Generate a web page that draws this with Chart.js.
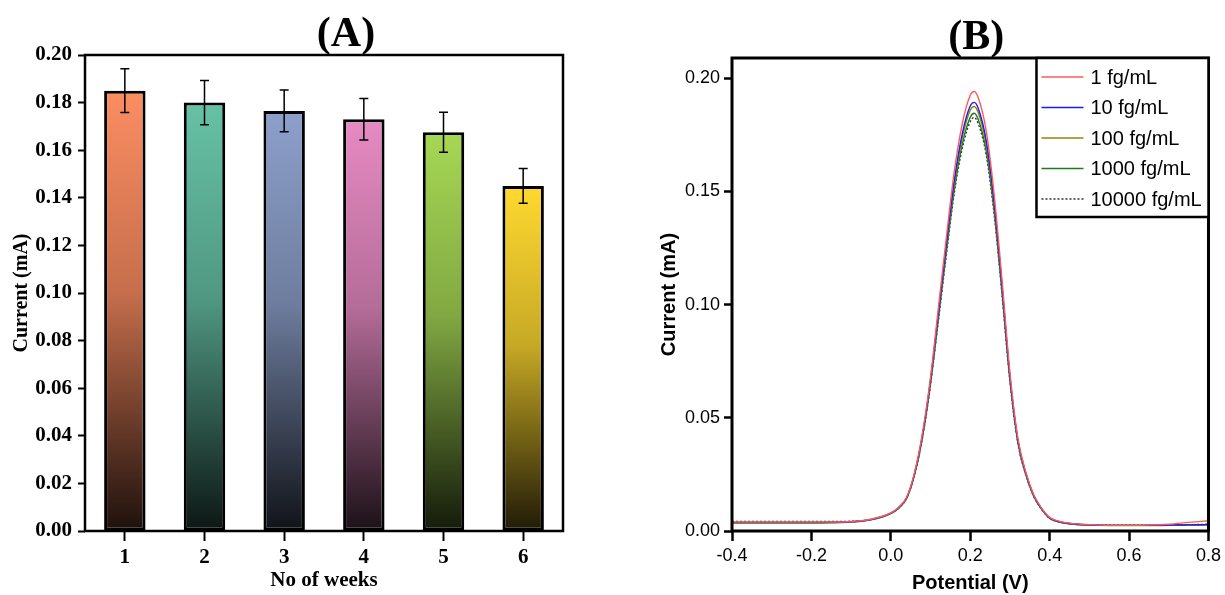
<!DOCTYPE html>
<html>
<head>
<meta charset="utf-8">
<script src="https://cdn.jsdelivr.net/npm/chart.js@4.4.0/dist/chart.umd.min.js"></script>
<style>
  html, body { margin: 0; padding: 0; background: #fff; }
  #panelA { position: absolute; left: 0; top: 0; width: 612px; height: 595px; }
  #panelB { position: absolute; left: 612px; top: 0; width: 613px; height: 595px; }
</style>
</head>
<body>
<div id="panelA"><canvas id="weeksChart"></canvas></div>
<div id="panelB"><canvas id="dpvChart"></canvas></div>
<script>
// (A) stability over weeks
const weeks = ['1', '2', '3', '4', '5', '6'];
const weekCurrent = [0.185, 0.180, 0.1765, 0.173, 0.1675, 0.145];
const weekError = [0.0092, 0.0093, 0.0088, 0.0087, 0.0084, 0.0073];
const barColors = ['#fc8d62', '#66c2a5', '#8da0cb', '#e78ac3', '#a6d854', '#ffd92f'];
const weekTicks = [0, 0.02, 0.04, 0.06, 0.08, 0.10, 0.12, 0.14, 0.16, 0.18, 0.20];

// (B) DPV curves
const potential = [-0.40, -0.35, -0.30, -0.25, -0.20, -0.15, -0.10, -0.05, 0.00, 0.02, 0.04, 0.06, 0.08, 0.10,
  0.12, 0.14, 0.16, 0.18, 0.20, 0.21, 0.22, 0.24, 0.26, 0.28, 0.30, 0.32, 0.34, 0.36, 0.38, 0.40,
  0.42, 0.45, 0.50, 0.55, 0.60, 0.65, 0.70, 0.75, 0.80];
const cur1 = [0.0040, 0.0040, 0.0040, 0.0040, 0.0040, 0.0040, 0.0042, 0.0052, 0.0080, 0.0105, 0.0150, 0.0260, 0.0436, 0.0680,
  0.0990, 0.1300, 0.1590, 0.1800, 0.1925, 0.1942, 0.1915, 0.1770, 0.1490, 0.1110, 0.0700, 0.0410, 0.0260, 0.0160, 0.0100, 0.0060,
  0.0045, 0.0035, 0.0028, 0.0025, 0.0025, 0.0026, 0.0030, 0.0038, 0.0045];
const cur10 = [0.0038, 0.0038, 0.0038, 0.0038, 0.0038, 0.0039, 0.0041, 0.0051, 0.0079, 0.0104, 0.0148, 0.0256, 0.0428, 0.0668,
  0.0966, 0.1268, 0.1551, 0.1756, 0.1878, 0.1894, 0.1868, 0.1727, 0.1454, 0.1083, 0.0683, 0.0401, 0.0255, 0.0157, 0.0098, 0.0058,
  0.0043, 0.0033, 0.0027, 0.0025, 0.0025, 0.0025, 0.0026, 0.0027, 0.0028];
const cur100 = [0.0037, 0.0037, 0.0037, 0.0037, 0.0037, 0.0038, 0.0041, 0.0050, 0.0078, 0.0103, 0.0147, 0.0254, 0.0424, 0.0661,
  0.0956, 0.1256, 0.1535, 0.1738, 0.1859, 0.1876, 0.1849, 0.1709, 0.1439, 0.1072, 0.0677, 0.0397, 0.0252, 0.0155, 0.0097, 0.0057,
  0.0042, 0.0032, 0.0026, 0.0024, 0.0024, 0.0024, 0.0025, 0.0026, 0.0027];
const cur1000 = [0.0035, 0.0035, 0.0035, 0.0035, 0.0035, 0.0036, 0.0039, 0.0049, 0.0077, 0.0101, 0.0145, 0.0250, 0.0418, 0.0651,
  0.0941, 0.1235, 0.1510, 0.1710, 0.1828, 0.1846, 0.1819, 0.1681, 0.1416, 0.1055, 0.0666, 0.0391, 0.0249, 0.0153, 0.0096, 0.0057,
  0.0042, 0.0032, 0.0026, 0.0025, 0.0025, 0.0025, 0.0026, 0.0027, 0.0028];
const cur10000 = [0.0042, 0.0042, 0.0042, 0.0042, 0.0042, 0.0042, 0.0043, 0.0052, 0.0079, 0.0102, 0.0145, 0.0248, 0.0414, 0.0645,
  0.0931, 0.1223, 0.1495, 0.1692, 0.1809, 0.1827, 0.1800, 0.1664, 0.1401, 0.1044, 0.0659, 0.0387, 0.0247, 0.0152, 0.0095, 0.0056,
  0.0042, 0.0032, 0.0027, 0.0026, 0.0026, 0.0026, 0.0027, 0.0028, 0.0030];
const dpvLabels = ['1 fg/mL', '10 fg/mL', '100 fg/mL', '1000 fg/mL', '10000 fg/mL'];
const dpvColors = ['#ff5a5a', '#1a1aff', '#8a8a00', '#1e7a1e', '#333333'];
const dpvXTicks = [-0.4, -0.2, 0.0, 0.2, 0.4, 0.6, 0.8];
const dpvYTicks = [0, 0.05, 0.10, 0.15, 0.20];

const SERIF = "'Liberation Serif', 'Times New Roman', serif";
const SANS = "'Liberation Sans', Arial, sans-serif";

// darken a hex colour towards black
function shade(hex, k) {
  const n = parseInt(hex.slice(1), 16);
  const r = Math.round(((n >> 16) & 255) * k);
  const g = Math.round(((n >> 8) & 255) * k);
  const b = Math.round((n & 255) * k);
  return `rgb(${r},${g},${b})`;
}

// full black box round the plot area
const framePlugin = {
  id: 'frame',
  afterDraw(chart, args, opts) {
    const { ctx, chartArea: a } = chart;
    ctx.save();
    ctx.strokeStyle = '#000';
    ctx.lineWidth = opts.width || 2.5;
    ctx.strokeRect(a.left, a.top, a.right - a.left, a.bottom - a.top);
    ctx.restore();
  }
};

// "(A)" / "(B)" heading
const panelTitlePlugin = {
  id: 'panelTitle',
  afterDraw(chart, args, opts) {
    const { ctx, chartArea: a } = chart;
    ctx.save();
    ctx.fillStyle = '#000';
    ctx.font = `bold ${opts.size}px ${SERIF}`;
    ctx.textAlign = 'center';
    ctx.textBaseline = 'alphabetic';
    ctx.fillText(opts.text, (a.left + a.right) / 2 + opts.shift, opts.baseline);
    ctx.restore();
  }
};

const errorBarPlugin = {
  id: 'errorBars',
  afterDatasetsDraw(chart) {
    const { ctx, scales: { y } } = chart;
    const meta = chart.getDatasetMeta(0);
    ctx.save();
    ctx.strokeStyle = '#000';
    ctx.lineWidth = 1.5;
    meta.data.forEach((bar, i) => {
      const hi = y.getPixelForValue(weekCurrent[i] + weekError[i]);
      const lo = y.getPixelForValue(weekCurrent[i] - weekError[i]);
      ctx.beginPath();
      ctx.moveTo(bar.x, hi); ctx.lineTo(bar.x, lo);
      ctx.moveTo(bar.x - 4.5, hi); ctx.lineTo(bar.x + 4.5, hi);
      ctx.moveTo(bar.x - 4.5, lo); ctx.lineTo(bar.x + 4.5, lo);
      ctx.stroke();
    });
    ctx.restore();
  }
};

// boxed legend in the top-right corner of panel B
const boxLegendPlugin = {
  id: 'boxLegend',
  afterDraw(chart) {
    const { ctx, chartArea: a } = chart;
    const left = a.right - 172, top = a.top, bottom = a.top + 159;
    ctx.save();
    ctx.fillStyle = '#fff';
    ctx.fillRect(left, top, a.right - left, bottom - top);
    ctx.strokeStyle = '#000';
    ctx.lineWidth = 2.5;
    ctx.strokeRect(left, top, a.right - left, bottom - top);
    ctx.font = `20px ${SANS}`;
    ctx.textBaseline = 'middle';
    chart.data.datasets.forEach((ds, i) => {
      const y = top + 19 + i * 30.5;
      ctx.strokeStyle = ds.borderColor;
      ctx.lineWidth = 1.5;
      ctx.setLineDash(ds.borderDash || []);
      ctx.beginPath();
      ctx.moveTo(left + 5, y); ctx.lineTo(left + 47, y);
      ctx.stroke();
      ctx.setLineDash([]);
      ctx.fillStyle = '#000';
      ctx.fillText(ds.label, left + 54, y + 1);
    });
    ctx.restore();
  }
};

// --- Chart A: current vs number of weeks ---
new Chart(document.getElementById('weeksChart'), {
  type: 'bar',
  data: {
    labels: weeks,
    datasets: [{
      data: weekCurrent,
      backgroundColor: (c) => {
        const chart = c.chart;
        const base = barColors[c.dataIndex];
        if (!chart.chartArea || c.type !== 'data') return base;
        const y = chart.scales.y;
        const top = y.getPixelForValue(weekCurrent[c.dataIndex]);
        const bottom = y.getPixelForValue(0);
        const g = chart.ctx.createLinearGradient(0, top, 0, bottom);
        g.addColorStop(0, base);
        g.addColorStop(0.46, shade(base, 0.78));
        g.addColorStop(1, shade(base, 0.12));
        return g;
      },
      borderColor: '#000',
      borderWidth: 3,
      borderSkipped: false,
      barPercentage: 0.52,
      categoryPercentage: 1.0
    }]
  },
  options: {
    responsive: true,
    maintainAspectRatio: false,
    animation: false,
    layout: { padding: { top: 55, left: 0, right: 49, bottom: 0 } },
    plugins: {
      legend: { display: false },
      tooltip: { enabled: false },
      frame: { width: 2.5 },
      panelTitle: { text: '(A)', size: 42, shift: 22, baseline: 46 }
    },
    scales: {
      x: {
        grid: { display: true, offset: false, drawOnChartArea: false, drawTicks: true, tickLength: 10, tickColor: '#000', tickWidth: 2 },
        border: { display: false },
        ticks: { color: '#000', padding: 4, font: { family: SERIF, size: 21, weight: 'bold' } },
        title: { display: true, text: 'No of weeks', color: '#000', padding: { top: 0, bottom: 2 },
          font: { family: SERIF, size: 21, weight: 'bold' } },
        afterFit: (s) => { s.height = 64; }
      },
      y: {
        min: 0,
        max: 0.2,
        afterBuildTicks: (s) => { s.ticks = weekTicks.map(v => ({ value: v })); },
        grid: { display: true, drawOnChartArea: false, drawTicks: true, tickLength: 7, tickColor: '#000', tickWidth: 2 },
        border: { display: false },
        ticks: { color: '#000', padding: 6, font: { family: SERIF, size: 21, weight: 'bold' },
          callback: (v) => Number(v).toFixed(2) },
        title: { display: true, text: 'Current (mA)', color: '#000', padding: { top: 10, bottom: 0 },
          font: { family: SERIF, size: 20, weight: 'bold' } },
        afterFit: (s) => { s.width = 85; }
      }
    }
  },
  plugins: [framePlugin, panelTitlePlugin, errorBarPlugin]
});

// --- Chart B: DPV response at different concentrations ---
const dpvSeries = [cur1, cur10, cur100, cur1000, cur10000];
new Chart(document.getElementById('dpvChart'), {
  type: 'line',
  data: {
    datasets: dpvSeries.map((ys, i) => ({
      label: dpvLabels[i],
      data: potential.map((x, j) => ({ x: x, y: ys[j] })),
      borderColor: dpvColors[i],
      borderWidth: 1.4,
      borderDash: i === 4 ? [2, 2] : undefined,
      pointRadius: 0,
      cubicInterpolationMode: 'monotone',
      fill: false
    }))
  },
  options: {
    responsive: true,
    maintainAspectRatio: false,
    animation: false,
    layout: { padding: { top: 58, left: 0, right: 15, bottom: 0 } },
    plugins: {
      legend: { display: false },
      tooltip: { enabled: false },
      frame: { width: 3 },
      panelTitle: { text: '(B)', size: 42, shift: 6, baseline: 49 }
    },
    scales: {
      x: {
        type: 'linear',
        min: -0.4,
        max: 0.8,
        afterBuildTicks: (s) => { s.ticks = dpvXTicks.map(v => ({ value: v })); },
        grid: { display: true, drawOnChartArea: false, drawTicks: true, tickLength: 10, tickColor: '#000', tickWidth: 2.5 },
        border: { display: false },
        ticks: { color: '#000', padding: 4, maxRotation: 0, font: { family: SANS, size: 18 },
          callback: (v) => (Math.abs(v) < 1e-9 ? '0.0' : Number(v).toFixed(1)) },
        title: { display: true, text: 'Potential (V)', color: '#000', padding: { top: 0, bottom: 0 },
          font: { family: SANS, size: 20, weight: 'bold' } },
        afterFit: (s) => { s.height = 64; }
      },
      y: {
        min: 0,
        max: 0.209,
        afterBuildTicks: (s) => { s.ticks = dpvYTicks.map(v => ({ value: v })); },
        grid: { display: true, drawOnChartArea: false, drawTicks: true, tickLength: 8, tickColor: '#000', tickWidth: 2.5 },
        border: { display: false },
        ticks: { color: '#000', padding: 4, font: { family: SANS, size: 18 },
          callback: (v) => Number(v).toFixed(2) },
        title: { display: true, text: 'Current (mA)', color: '#000', padding: { top: 45, bottom: 0 },
          font: { family: SANS, size: 20, weight: 'bold' } },
        afterFit: (s) => { s.width = 120; }
      }
    }
  },
  plugins: [framePlugin, panelTitlePlugin, boxLegendPlugin]
});
</script>
</body>
</html>
